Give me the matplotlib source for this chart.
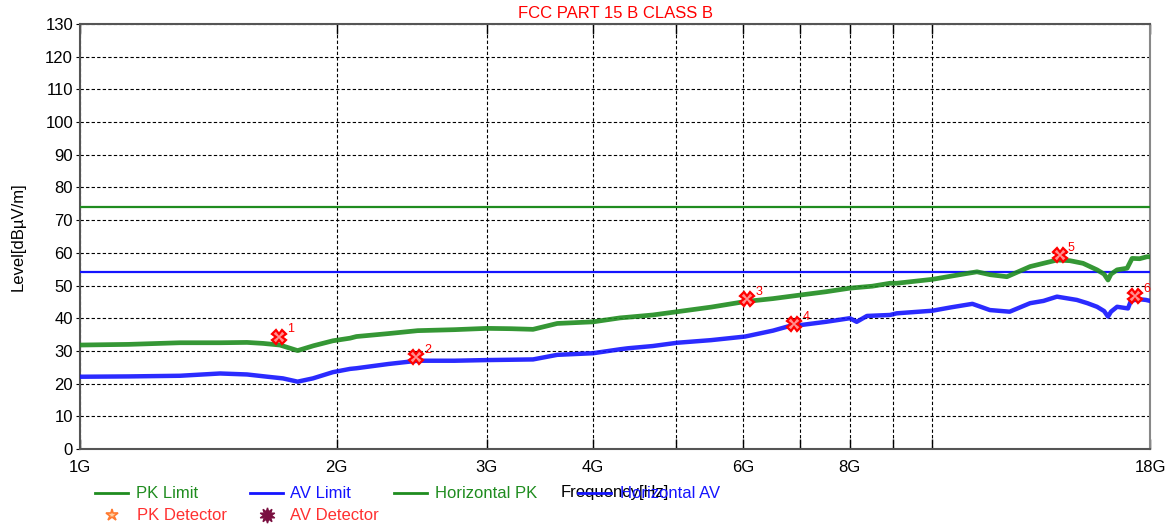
#EMI scan plot - FCC part 15 B class B, horizontal polarisation

import matplotlib
matplotlib.use('Agg')
import matplotlib.pyplot as plt
from matplotlib.lines import Line2D
from matplotlib.ticker import FixedLocator, NullFormatter

plt.rcParams['font.family'] = ['Liberation Sans', 'DejaVu Sans']

# limits (dBuV/m)
pk_limit = 74
av_limit = 54

# horizontal PK trace (GHz, dBuV/m)
pk_freq = [1.0, 1.14, 1.31, 1.46, 1.57, 1.64, 1.716, 1.80, 1.88, 1.98, 2.074, 2.11, 2.3, 2.49,
           2.75, 3.0, 3.2, 3.40, 3.63, 4.0, 4.30, 4.39, 4.7, 5.02, 5.5, 6.03, 6.5, 7.0, 7.5,
           8.0, 8.5, 8.92, 9.08, 10.0, 10.98, 11.28, 11.7, 12.23, 13.02, 13.5, 14.0, 14.5,
           15.02, 15.6, 15.9, 16.07, 16.2, 16.47, 16.92, 17.15, 17.5, 17.85, 18.0]
pk_level = [31.8, 32.0, 32.5, 32.5, 32.6, 32.3, 31.8, 30.1, 31.6, 33.1, 33.9, 34.4, 35.3, 36.2,
            36.5, 36.9, 36.8, 36.6, 38.4, 38.9, 40.1, 40.3, 41.0, 42.0, 43.4, 45.1, 46.0, 47.1, 48.1,
            49.2, 49.8, 50.7, 50.7, 51.9, 53.7, 54.2, 53.3, 52.7, 55.8, 56.8, 57.8, 57.6,
            56.8, 54.8, 53.5, 51.7, 53.5, 54.8, 55.3, 58.3, 58.2, 58.8, 58.8]

# horizontal AV trace
av_freq = [1.0, 1.14, 1.31, 1.46, 1.57, 1.66, 1.73, 1.80, 1.876, 1.98, 2.074, 2.11, 2.3, 2.49,
           2.75, 3.0, 3.2, 3.40, 3.63, 4.0, 4.30, 4.39, 4.7, 5.02, 5.5, 6.03, 6.5, 6.88, 7.0,
           7.5, 8.0, 8.15, 8.38, 8.92, 9.08, 10.0, 10.5, 11.14, 11.68, 12.32, 13.02, 13.5, 14.0,
           14.77, 15.2, 15.6, 15.9, 16.07, 16.2, 16.47, 16.96, 17.1, 17.5, 17.8, 18.0]
av_level = [22.1, 22.2, 22.4, 23.1, 22.8, 22.1, 21.6, 20.6, 21.6, 23.5, 24.5, 24.7, 26.0, 27.0,
            27.0, 27.2, 27.3, 27.4, 28.8, 29.3, 30.5, 30.8, 31.5, 32.5, 33.3, 34.4, 36.2, 38.0, 37.9,
            38.9, 40.0, 38.9, 40.7, 41.0, 41.5, 42.3, 43.3, 44.4, 42.5, 42.0, 44.6, 45.3, 46.6,
            45.6, 44.6, 43.5, 42.2, 40.5, 42.0, 43.5, 43.0, 45.4, 45.8, 45.6, 45.3]

# peaks marked on the plot
peak_no = ['1', '2', '3', '4', '5', '6']
peak_freq = [1.712, 2.48, 6.06, 6.88, 14.1, 17.3]
peak_level = [34.4, 28.2, 45.9, 38.2, 59.3, 46.9]

xticks = [1, 2, 3, 4, 6, 8, 18]
xticklabels = ['1G', '2G', '3G', '4G', '6G', '8G', '18G']
xminor = [5, 7, 9, 10]

green = '#1f8c1f'
blue = '#1414ff'

fig = plt.figure(figsize=(11.73, 5.26), dpi=100)
ax = fig.add_axes([80/1173, 1 - 449/526, 1070/1173, 425/526])

ax.axhline(pk_limit, color=green, lw=1.6, zorder=3)
ax.axhline(av_limit, color=blue, lw=1.6, zorder=3)
ax.plot(pk_freq, pk_level, color=green, lw=3.4, alpha=0.9, solid_joinstyle='round', zorder=4)
ax.plot(av_freq, av_level, color=blue, lw=3.2, alpha=0.9, solid_joinstyle='round', zorder=4)

ax.plot(peak_freq, peak_level, ls='none', marker='X', ms=10, mfc='#ff9090', mec='red',
        mew=1.6, zorder=5)
for n, f, l in zip(peak_no, peak_freq, peak_level):
    ax.annotate(n, (f, l), xytext=(6, 3), textcoords='offset points', color='red',
                fontsize=9, clip_on=False, annotation_clip=False)

ax.set_xscale('log')
ax.set_xlim(1, 18)
ax.set_ylim(0, 130)
ax.set_yticks(range(0, 131, 10))
ax.xaxis.set_major_locator(FixedLocator(xticks))
ax.set_xticklabels(xticklabels)
ax.xaxis.set_minor_locator(FixedLocator(xminor))
ax.xaxis.set_minor_formatter(NullFormatter())

ax.grid(True, which='both', axis='x', color='black', ls=(0, (3, 2)), lw=0.8)
ax.grid(True, which='major', axis='y', color='black', ls=(0, (3, 2)), lw=0.8)

ax.tick_params(axis='x', which='both', direction='in', top=True, length=7, width=1,
               labelsize=12, pad=8, colors='black')
ax.tick_params(axis='y', direction='out', length=3, labelsize=12, pad=2)
for s in ['left', 'bottom', 'top']:
    ax.spines[s].set_color('#555555')
    ax.spines[s].set_linewidth(1.5)
ax.spines['right'].set_color('#888888')
ax.spines['right'].set_linewidth(1.5)

ax.set_title('FCC PART 15 B CLASS B', color='red', fontsize=12, pad=4)
ax.set_ylabel('Level[dBµV/m]', fontsize=12, labelpad=14)
ax.set_xlabel('Frequency[Hz]', fontsize=12)
ax.xaxis.set_label_coords(0.5, -0.085)

# legend drawn by hand under the plot
W, H = 1173, 526
row1 = 1 - 493/H
row2 = 1 - 515/H
entries = [(95, 136, 'PK Limit', green), (250, 290, 'AV Limit', blue),
           (394, 435, 'Horizontal PK', green), (578, 620, 'Horizontal AV', blue)]
for x0, xt, txt, c in entries:
    fig.add_artist(Line2D([x0/W, (x0 + 33)/W], [row1, row1], color=c, lw=2))
    fig.text(xt/W, row1, txt, color=c, fontsize=12, va='center', ha='left')
fig.add_artist(Line2D([112/W], [row2], marker='*', ms=9, mfc='#ffd0a0', mec='#ff7a30',
                      mew=1.2, ls='none'))
fig.text(137/W, row2, 'PK Detector', color='#ff3030', fontsize=12, va='center')
fig.add_artist(Line2D([267/W], [row2], marker=(10, 1, 0), ms=11, color='#7a0f40', ls='none'))
fig.text(290/W, row2, 'AV Detector', color='#ff3030', fontsize=12, va='center')

fig.savefig('out.png', dpi=100)
